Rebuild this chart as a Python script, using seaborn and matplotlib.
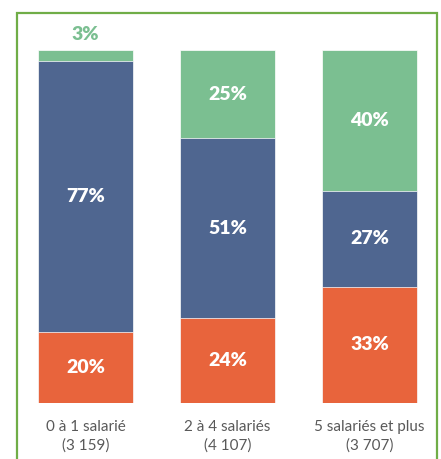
import pandas as pd
import seaborn as sns
import matplotlib.pyplot as plt
from matplotlib.patches import Rectangle

# data (shares in %)
categories = ['0 à 1 salarié\n(3 159)', '2 à 4 salariés\n(4 107)', '5 salariés et plus\n(3 707)']
bottom_share = [20, 24, 33]   # orange
middle_share = [77, 51, 27]   # blue
top_share = [3, 25, 40]       # green

orange = '#E8643C'
blue = '#4F6690'
green = '#7BBF91'

sns.set_theme(style='white')
plt.rcParams['font.family'] = ['Lato', 'DejaVu Sans']

df = pd.DataFrame({'cat': categories, 'low': bottom_share, 'mid': middle_share, 'top': top_share})
df['cum_mid'] = df['low'] + df['mid']
df['cum_top'] = df['cum_mid'] + df['top']

fig = plt.figure(figsize=(4.41, 4.59), dpi=100)
ax = fig.add_axes([17 / 441, 56 / 459, 420 / 441, 353 / 459])

# stacked bars drawn as overlapping cumulative totals
sns.barplot(data=df, x='cat', y='cum_top', color=green, saturation=1, width=0.67, ax=ax, linewidth=0.5)
sns.barplot(data=df, x='cat', y='cum_mid', color=blue, saturation=1, width=0.67, ax=ax, linewidth=0.5)
sns.barplot(data=df, x='cat', y='low', color=orange, saturation=1, width=0.67, ax=ax, linewidth=0.5)

ax.set_ylim(0, 100)
ax.set_xlim((17 - 85.5) / 142, (437 - 85.5) / 142)
for s in ax.spines.values():
    s.set_visible(False)
ax.set_yticks([])
ax.set_xlabel('')
ax.set_ylabel('')
ax.tick_params(axis='x', length=0, pad=12, labelsize=11, labelcolor='#595959')
for t in ax.get_xticklabels():
    t.set_linespacing(1.4)

lab = dict(color='white', fontsize=14, fontweight='heavy', ha='center', va='center')
for i, row in df.iterrows():
    ax.text(i, row['low'] / 2, f"{row['low']}%", **lab)
    ax.text(i, row['low'] + row['mid'] / 2, f"{row['mid']}%", **lab)
    if row['top'] >= 10:
        ax.text(i, row['cum_mid'] + row['top'] / 2, f"{row['top']}%", **lab)
    else:
        ax.text(i, row['cum_top'] + 4.5, f"{row['top']}%", color=green, fontsize=14,
                fontweight='heavy', ha='center', va='center', clip_on=False)

# green frame around the chart
fig.patches.append(Rectangle((17 / 441, -0.05), 420 / 441, 1.05 - 13 / 459, transform=fig.transFigure,
                             fill=False, edgecolor='#70AD47', linewidth=1.6))

fig.savefig('out.png', dpi=100)
